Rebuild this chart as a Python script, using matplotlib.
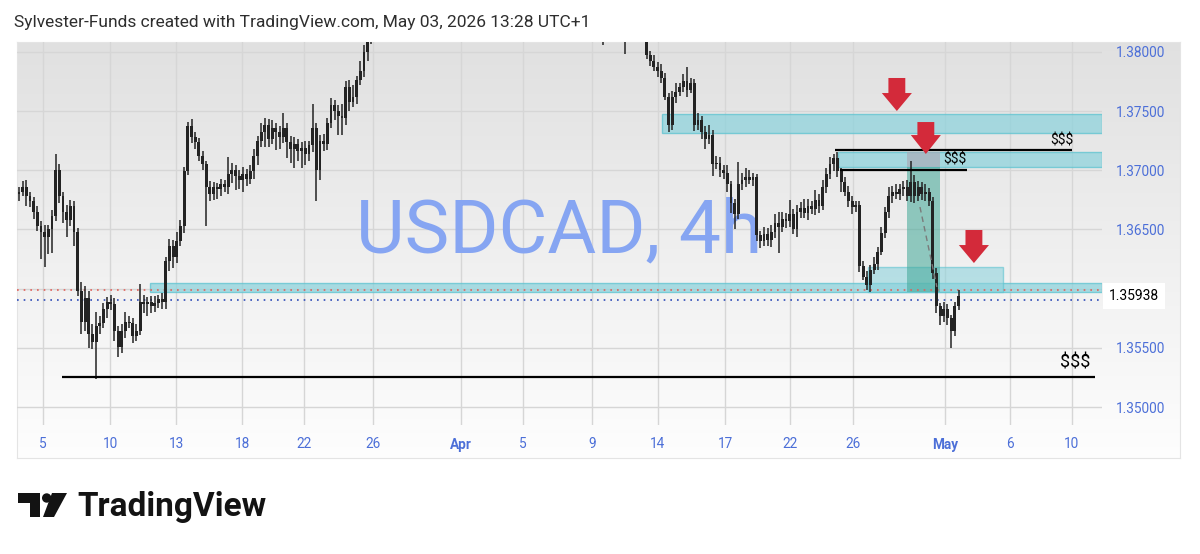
import numpy as np
import matplotlib.pyplot as plt
from matplotlib.patches import Rectangle, Polygon, Circle

# closes in pips above 1.3500, one per 4h candle
close_mar_a = [182, 186, 178, 174, 165, 153, 148, 144, 150, 161,
               200, 178, 165, 158, 170, 148, 98, 72, 92, 62,
               55, 68, 71, 83, 89, 87, 64, 51, 64, 72,
               71, 60, 64, 89, 87, 89, 85, 88, 91, 89]
close_mar_b = [123, 136, 127, 140, 153, 199, 237, 228, 224, 212,
               205, 186, 180, 186, 184, 188, 186, 197, 200, 195,
               192, 197, 193, 199, 212, 225, 232, 238, 226, 236,
               232, 228, 236, 224, 218, 222, 216, 219, 214, 221,
               236, 200, 225, 222, 240, 255, 250, 246, 244, 270,
               258, 262, 276, 284, 300, 312]
# above the visible range (late March - mid April)
close_off = [318, 325, 322, 330, 338, 335, 342, 350, 346, 355,
             360, 352, 348, 356, 362, 370, 365, 358, 352, 360,
             368, 374, 380, 376, 370, 364, 372, 378, 385, 390,
             384, 378, 372, 366, 360, 368, 374, 370, 362, 356,
             350, 344, 352, 358, 364, 356, 348, 340, 336, 342,
             348, 344, 338, 332, 328, 334, 330, 325, 322, 318,
             324, 320, 316, 312, 318, 324, 320, 326, 318, 312,
             322, 330, 326, 318, 314]
close_apr_may = [297, 292, 287, 284, 278, 262, 238, 262, 266, 270,
                 275, 268, 274, 238, 242, 232, 226, 230, 205, 206,
                 200, 198, 188, 172, 163, 188, 192, 194, 192, 194,
                 145, 140, 146, 141, 148, 155, 152, 159, 157, 163,
                 150, 165, 168, 164, 170, 167, 175, 170, 186, 197,
                 205, 210, 199, 190, 182, 174, 169, 171, 119, 110,
                 103, 116, 121, 131, 147, 165, 178, 182, 180, 184,
                 186, 178, 190, 178, 186, 180, 182, 174, 113, 85,
                 77, 83, 75, 64, 85, 93.8]

# wick lengths (pips) above / below the body
up_mar_a = [4, 5, 6, 4, 3, 5, 4, 6, 4, 5, 14, 5, 4, 6, 5, 4, 3, 8, 10, 6,
            8, 12, 6, 5, 4, 6, 5, 4, 6, 8, 5, 4, 6, 15, 6, 4, 5, 6, 4, 5]
dn_mar_a = [6, 4, 8, 5, 6, 4, 23, 26, 15, 20, 4, 6, 10, 14, 5, 12, 4, 10, 8, 12,
            6, 31, 6, 4, 8, 5, 8, 9, 5, 6, 4, 6, 4, 3, 8, 10, 6, 5, 4, 6]
up_mar_b = [4, 6, 5, 8, 5, 4, 4, 6, 4, 3, 4, 3, 5, 4, 3, 5, 4, 14, 6, 4,
            5, 6, 4, 5, 6, 4, 8, 6, 5, 6, 4, 5, 12, 4, 5, 6, 4, 5, 6, 4,
            20, 4, 5, 6, 4, 6, 4, 5, 10, 5, 6, 10, 4, 8, 6, 6]
dn_mar_b = [6, 8, 10, 5, 4, 6, 3, 5, 6, 4, 5, 33, 6, 5, 8, 6, 4, 6, 8, 12,
            8, 10, 6, 5, 6, 8, 5, 12, 6, 4, 15, 10, 5, 14, 12, 16, 8, 14, 10, 6,
            6, 26, 8, 6, 5, 4, 8, 16, 14, 6, 8, 5, 6, 4, 5, 8]
up_off = [5, 6, 4, 5, 6, 4, 5, 6, 5, 4, 6, 5, 4, 5, 6, 4, 5, 6, 5, 4,
          6, 5, 4, 5, 6, 4, 5, 6, 5, 4, 6, 5, 4, 5, 6, 4, 5, 6, 5, 4,
          6, 5, 4, 5, 6, 4, 5, 6, 5, 4, 6, 5, 4, 5, 6, 4, 5, 6, 5, 4,
          6, 5, 4, 5, 6, 4, 5, 6, 5, 4, 6, 5, 4, 5, 6]
dn_off = [5, 4, 6, 5, 4, 6, 5, 4, 5, 6, 4, 5, 6, 5, 4, 6, 5, 4, 5, 6,
          4, 5, 6, 5, 4, 6, 5, 4, 5, 6, 4, 5, 6, 5, 4, 6, 5, 4, 5, 6,
          4, 5, 6, 5, 4, 6, 5, 4, 5, 6, 4, 5, 6, 5, 4, 6, 5, 4, 5, 6,
          4, 5, 6, 6, 4, 5, 4, 6, 5, 14, 4, 5, 6, 5, 4]
up_apr_may = [10, 4, 5, 4, 6, 4, 3, 5, 8, 4, 6, 12, 4, 3, 6, 4, 5, 8, 4, 6,
              5, 4, 6, 3, 4, 19, 6, 8, 6, 4, 3, 4, 6, 5, 6, 8, 10, 6, 5, 12,
              4, 6, 5, 8, 6, 4, 8, 5, 6, 5, 6, 4, 5, 3, 4, 5, 4, 3, 3, 4,
              5, 4, 6, 4, 5, 4, 8, 5, 6, 4, 5, 6, 18, 6, 5, 4, 6, 3, 3, 4,
              3, 6, 4, 3, 4, 5]
dn_apr_may = [3, 4, 3, 5, 4, 3, 6, 4, 5, 3, 4, 6, 3, 5, 4, 6, 8, 4, 10, 4,
              6, 5, 6, 8, 13, 4, 5, 6, 4, 5, 5, 6, 4, 5, 6, 5, 22, 4, 6, 5,
              4, 6, 5, 4, 6, 4, 5, 6, 4, 5, 4, 6, 5, 8, 4, 5, 6, 4, 5, 3,
              4, 6, 4, 5, 3, 4, 5, 6, 4, 5, 6, 4, 5, 6, 4, 5, 6, 4, 5, 6,
              8, 5, 6, 14, 4, 3]

first_open = 180
price_ticks = [1.35, 1.355, 1.36, 1.365, 1.37, 1.375, 1.38]
date_pos = [6.5, 24.8, 42.9, 60.8, 77.7, 96.5, 120.4, 137.3, 156.1, 174.1,
            192.4, 210.1, 227.2, 252.3, 270.0, 286.9]
date_labels = ['5', '10', '13', '18', '22', '26', 'Apr', '5', '9', '14',
               '17', '22', '26', 'May', '6', '10']

# zones (price bands) and levels
supply_zones = [(175.2, 1.37314, 1.37475), (223.2, 1.37027, 1.37154), (35.7, 1.35971, 1.36047)]
fvg_zone = (231.3, 268.1, 1.35971, 1.36182)
liq_lines = [(222.3, 286.9, 1.37171), (223.7, 258.3, 1.37002), (11.7, 293.2, 1.35253)]

base = 1.35
close = base + np.array(close_mar_a + close_mar_b + close_off + close_apr_may) / 10000
up = np.array(up_mar_a + up_mar_b + up_off + up_apr_may) / 10000
dn = np.array(dn_mar_a + dn_mar_b + dn_off + dn_apr_may) / 10000
opn = np.concatenate([[base + first_open / 10000], close[:-1]])
top = np.maximum(opn, close)
bot = np.minimum(opn, close)
idx = np.arange(len(close))

plt.rcParams['font.family'] = ['Roboto', 'DejaVu Sans']
fig = plt.figure(figsize=(12, 5.54), dpi=100)

# panel background gradient
bg = fig.add_axes([17 / 1200, 1 - 458 / 554, 1163 / 1200, 416 / 554])
grad = np.linspace(0.88, 0.995, 256).reshape(-1, 1)
bg.imshow(np.dstack([grad, grad, grad]), aspect='auto', extent=[0, 1, 0, 1], origin='upper')
bg.set_xticks([]); bg.set_yticks([])
for s in bg.spines.values():
    s.set_color('#e4e4e4')

ax = fig.add_axes([17 / 1200, 1 - 425 / 554, 1085 / 1200, 383 / 554])
ax.patch.set_alpha(0)
xmax = 295.1
ax.set_xlim(-0.55, xmax)
ax.set_ylim(1.34848, 1.38083)
for s in ax.spines.values():
    s.set_visible(False)

ax.set_yticks(price_ticks)
ax.set_yticklabels(['%.5f' % p for p in price_ticks])
ax.yaxis.tick_right()
ax.tick_params(axis='y', length=0, pad=10, labelsize=9.8, labelcolor='#4c6fd8')
ax.set_xticks(date_pos)
ax.set_xticklabels(date_labels)
ax.tick_params(axis='x', length=0, pad=9, labelsize=9.8, labelcolor='#4c6fd8')
for t in ax.get_xticklabels():
    if t.get_text() in ('Apr', 'May'):
        t.set_fontweight('bold')
ax.grid(True, color='#d6d6d6', lw=1)
ax.set_axisbelow(True)

# watermark
ax.text(0.5, 1.36475, 'USDCAD, 4h', transform=ax.get_yaxis_transform(), ha='center',
        va='center', fontsize=54, color='#86a5f2', zorder=1)

zc = '#8fd3dc'
ec = '#5cc3d0'
for x0, lo, hi in supply_zones:
    ax.add_patch(Rectangle((x0, lo), xmax - x0, hi - lo, fc=zc, ec=ec, lw=1, alpha=0.75, zorder=2))
ax.add_patch(Rectangle((fvg_zone[0], fvg_zone[2]), fvg_zone[1] - fvg_zone[0], fvg_zone[3] - fvg_zone[2],
                       fc=zc, ec=ec, lw=1, alpha=0.6, zorder=2))
# short position tool
ax.add_patch(Rectangle((242.0, 1.37027), 9.0, 1.37154 - 1.37027, fc='#a9a9b4', alpha=0.65, zorder=2))
ax.add_patch(Rectangle((242.0, 1.35971), 9.0, 1.37027 - 1.35971, fc='#3fa796', alpha=0.55, zorder=2))

# dotted price lines
ax.axhline(1.35985, color='#e0605a', lw=1.2, ls=(0, (1, 3)), zorder=2)
ax.axhline(1.35908, color='#2e4bb8', lw=1.2, ls=(0, (1, 3)), zorder=2)

# candles
cc = '#232323'
ax.vlines(idx, bot - dn, top + up, color=cc, lw=1.1, zorder=4)
ax.bar(idx, np.maximum(top - bot, 0.00003), bottom=bot, width=0.78, color=cc, zorder=4)

ax.plot([245.5, 250.1], [1.36689, 1.36014], color='#7a7a7a', lw=1, ls=(0, (4, 3)), zorder=5)

for x0, x1, y in liq_lines:
    ax.plot([x0, x1], [y, y], color='black', lw=1.6, zorder=5, solid_capstyle='butt')
ax.text(284.2, 1.37250, '$$$', ha='center', va='center', fontsize=10, zorder=6)
ax.text(255.0, 1.37088, '$$$', ha='center', va='center', fontsize=10, zorder=6)
ax.text(287.7, 1.35372, '$$$', ha='center', va='center', fontsize=13, zorder=6)

# red arrows
def down_arrow(xc, ytop, yhead, ytip):
    sw, hw = 2.3, 4.1
    pts = [(xc - sw, ytop), (xc + sw, ytop), (xc + sw, yhead), (xc + hw, yhead),
           (xc, ytip), (xc - hw, yhead), (xc - sw, yhead)]
    ax.add_patch(Polygon(pts, closed=True, fc='#d32a3a', ec='none', zorder=7))

down_arrow(239.2, 1.37779, 1.37652, 1.37500)
down_arrow(247.1, 1.37407, 1.37297, 1.37137)
down_arrow(260.2, 1.36495, 1.36368, 1.36216)

# last price label
ax.text(1.0065, close[-1], '%.5f' % close[-1], transform=ax.get_yaxis_transform(),
        ha='left', va='center', fontsize=10, color='black', zorder=10,
        bbox=dict(boxstyle='square,pad=0.45', fc='white', ec='none'))

# overlay for header / logo in pixel coords
ov = fig.add_axes([0, 0, 1, 1])
ov.set_xlim(0, 1200)
ov.set_ylim(554, 0)
ov.axis('off')
ov.patch.set_alpha(0)
ov.text(14, 22, 'Sylvester-Funds created with TradingView.com, May 03, 2026 13:28 UTC+1',
        ha='left', va='center', fontsize=12.5, color='#2e2e2e')
ov.add_patch(Polygon([(18, 493), (40, 493), (40, 517), (30, 517), (30, 503), (18, 503)], fc='#131313'))
ov.add_patch(Circle((46.7, 498), 4.7, fc='#131313'))
ov.add_patch(Polygon([(52, 493), (67, 493), (54, 517), (43, 517)], fc='#131313'))
ov.text(77, 507, 'TradingView', ha='left', va='center', fontsize=24, fontweight='bold',
        color='#131313')

fig.savefig('out.png', dpi=100)
